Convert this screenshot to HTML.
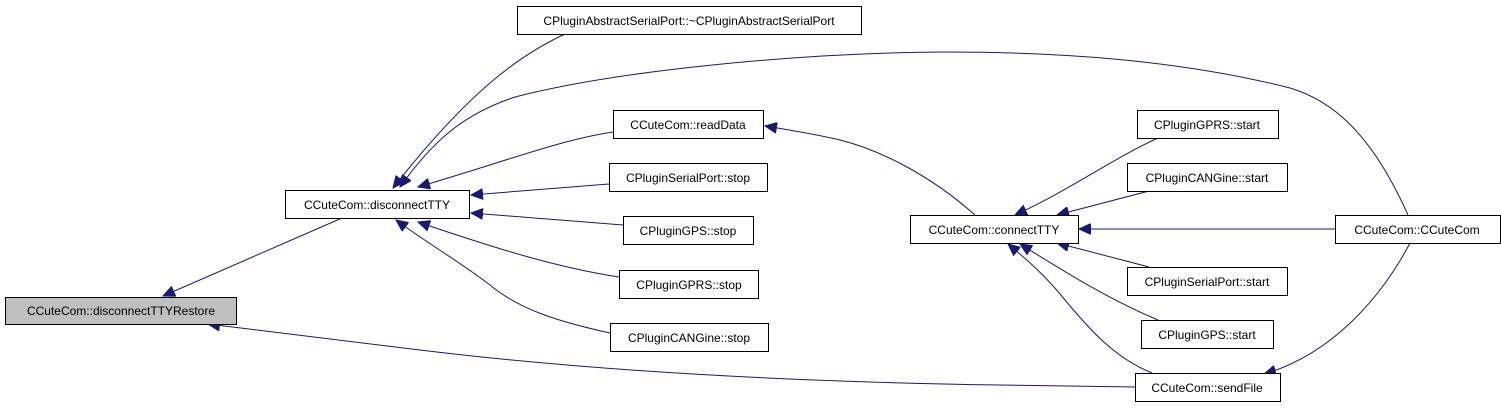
<!DOCTYPE html>
<html><head><meta charset="utf-8"><style>
html,body{margin:0;padding:0;background:#fff;}
svg{display:block;}
text{font-family:"Liberation Sans",Arial,sans-serif;font-size:12px;fill:#000;}
</style></head><body>
<svg width="1501" height="408" viewBox="0 0 1501 408" xmlns="http://www.w3.org/2000/svg">
<defs>
<marker id="a" markerUnits="userSpaceOnUse" markerWidth="13" markerHeight="11" refX="12" refY="5.5" orient="auto">
<path d="M0,0 L12,5.5 L0,11 Z" fill="#191970" stroke="#191970"/>
</marker>
</defs>
<g fill="none" stroke="#191970" stroke-width="1" marker-end="url(#a)">
<path d="M342,218 L163,296"/>
<path d="M565,34 C520,55 470,90 393,188"/>
<path d="M1408,215 C1370,130 1330,100 1290,88 C1180,60 1060,52 943,52 C800,53 620,70 515,97 C460,115 430,145 400,187"/>
<path d="M613,132 C560,140 510,160 418,187"/>
<path d="M609,184 L471,195"/>
<path d="M623,225 L471,213"/>
<path d="M619,277 C560,268 500,250 418,222"/>
<path d="M610,333 C560,322 520,310 490,285 C460,262 430,245 396,220"/>
<path d="M975,215 C930,175 880,150 840,140 C815,134 790,130 765,126"/>
<path d="M1158,138 C1110,160 1070,190 1015,215"/>
<path d="M1149,191 L1057,215"/>
<path d="M1335,229 L1079,229"/>
<path d="M1149,267 L1057,243"/>
<path d="M1158,320 C1110,300 1070,275 1020,244"/>
<path d="M1152,373 C1115,358 1090,330 1065,300 C1045,275 1025,258 1008,244"/>
<path d="M1135,387 L1000,385 C800,382 600,372 420,350 C330,339 260,331 208,324"/>
<path d="M1410,243 C1380,300 1330,355 1264,374"/>
</g>
<g stroke="#000" stroke-width="1">
<rect x="5.5" y="297.5" width="231" height="27" fill="#bfbfbf"/>
<rect x="285.5" y="190.5" width="184" height="28" fill="#fff"/>
<rect x="517.5" y="6.5" width="344" height="28" fill="#fff"/>
<rect x="613.5" y="110.5" width="150" height="28" fill="#fff"/>
<rect x="609.5" y="163.5" width="158" height="28" fill="#fff"/>
<rect x="623.5" y="216.5" width="130" height="28" fill="#fff"/>
<rect x="619.5" y="270.5" width="139" height="28" fill="#fff"/>
<rect x="610.5" y="323.5" width="158" height="28" fill="#fff"/>
<rect x="910.5" y="215.5" width="168" height="28" fill="#fff"/>
<rect x="1137.5" y="110.5" width="141" height="28" fill="#fff"/>
<rect x="1127.5" y="163.5" width="160" height="28" fill="#fff"/>
<rect x="1335.5" y="215.5" width="165" height="28" fill="#fff"/>
<rect x="1127.5" y="267.5" width="160" height="28" fill="#fff"/>
<rect x="1141.5" y="320.5" width="132" height="28" fill="#fff"/>
<rect x="1135.5" y="373.5" width="145" height="28" fill="#fff"/>
</g>
<g text-anchor="middle">
<text x="121" y="315">CCuteCom::disconnectTTYRestore</text>
<text x="377" y="209">CCuteCom::disconnectTTY</text>
<text x="689" y="25">CPluginAbstractSerialPort::~CPluginAbstractSerialPort</text>
<text x="688" y="129">CCuteCom::readData</text>
<text x="688" y="182">CPluginSerialPort::stop</text>
<text x="688" y="235">CPluginGPS::stop</text>
<text x="689" y="289">CPluginGPRS::stop</text>
<text x="689" y="342">CPluginCANGine::stop</text>
<text x="994" y="234">CCuteCom::connectTTY</text>
<text x="1207" y="129">CPluginGPRS::start</text>
<text x="1207" y="182">CPluginCANGine::start</text>
<text x="1417" y="234">CCuteCom::CCuteCom</text>
<text x="1207" y="286">CPluginSerialPort::start</text>
<text x="1207" y="339">CPluginGPS::start</text>
<text x="1207" y="392">CCuteCom::sendFile</text>
</g>
</svg>
</body></html>
